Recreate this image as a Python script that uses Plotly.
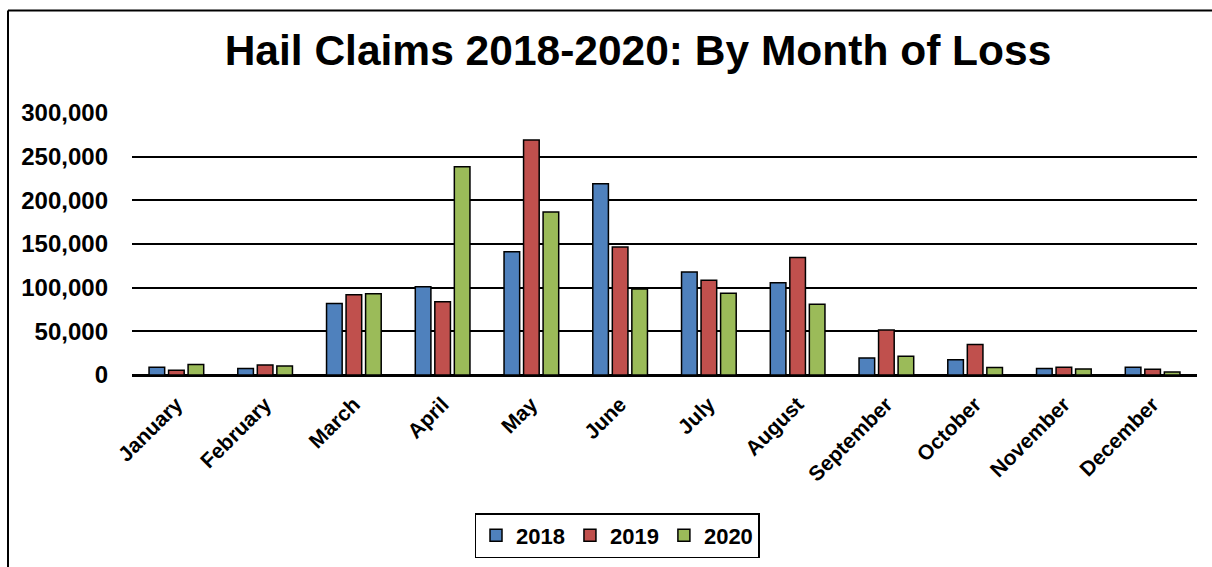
import plotly.graph_objects as go

months = ["January", "February", "March", "April", "May", "June", "July",
          "August", "September", "October", "November", "December"]
claims_2018 = [9000, 7500, 82000, 101000, 141000, 219000, 118000, 105500, 19500, 17500, 7500, 8800]
claims_2019 = [5500, 11500, 92000, 84000, 269000, 146500, 108500, 134500, 51500, 35000, 9000, 6500]
claims_2020 = [12000, 10300, 93000, 238500, 186500, 98500, 93500, 81000, 21500, 8500, 7000, 3300]
years = ["2018", "2019", "2020"]
colors = ["#4F81BD", "#C0504D", "#9BBB59"]
y_ticks = [0, 50000, 100000, 150000, 200000, 250000, 300000]

FONT = "Liberation Sans, Arial, sans-serif"

fig = go.Figure()
for name, vals, col in zip(years, [claims_2018, claims_2019, claims_2020], colors):
    fig.add_trace(go.Bar(
        x=months, y=vals, name=name,
        marker=dict(color=col, line=dict(color="black", width=1.5)),
    ))

W, H = 1212, 567
L, R, T, B = 132, 15, 112.7, 192
pw = W - L - R
ph = H - T - B

def px_x(x):
    return (x - L) / pw

def px_y(y):
    return (H - B - y) / ph

fig.update_layout(
    width=W, height=H,
    margin=dict(l=L, r=R, t=T, b=B, pad=0),
    paper_bgcolor="white", plot_bgcolor="white",
    barmode="group", bargap=0.34, bargroupgap=0.2,
    font=dict(family=FONT, color="black"),
    title=dict(text="<b>Hail Claims 2018-2020: By Month of Loss</b>",
               x=638 / W, xanchor="center", y=1 - 50 / H, yanchor="middle",
               font=dict(size=42.5, family=FONT, color="black")),
    legend=dict(orientation="h", xref="container", yref="container",
                x=617 / W, xanchor="center",
                y=1 - 513 / H, yanchor="top",
                bordercolor="black", borderwidth=1.5,
                font=dict(size=22, family=FONT, color="black", weight="bold"),
                itemwidth=30),
    showlegend=True,
    shapes=[
        dict(type="line", xref="paper", yref="paper",
             x0=px_x(8), x1=px_x(8), y0=px_y(10), y1=px_y(580),
             line=dict(color="black", width=2)),
        dict(type="line", xref="paper", yref="paper",
             x0=px_x(8), x1=px_x(1230), y0=px_y(10), y1=px_y(10),
             line=dict(color="black", width=2)),
    ],
)
fig.update_xaxes(
    tickangle=-45, showgrid=False, showline=False, ticks="",
    ticklabelstandoff=12,
    tickfont=dict(size=21, family=FONT, color="black", weight="bold"),
)
fig.update_yaxes(
    range=[0, 300000], tickvals=y_ticks, tickformat=",.0f",
    showgrid=True, gridcolor="black", gridwidth=1.7,
    zeroline=True, zerolinecolor="black", zerolinewidth=2.5,
    showline=False, ticks="", ticklabelstandoff=23,
    tickfont=dict(size=24, family=FONT, color="black", weight="bold"),
)

fig.write_html(
    "out.html",
    config={"displayModeBar": False},
    post_script="document.body.style.margin='0';document.body.style.overflow='hidden';",
)
